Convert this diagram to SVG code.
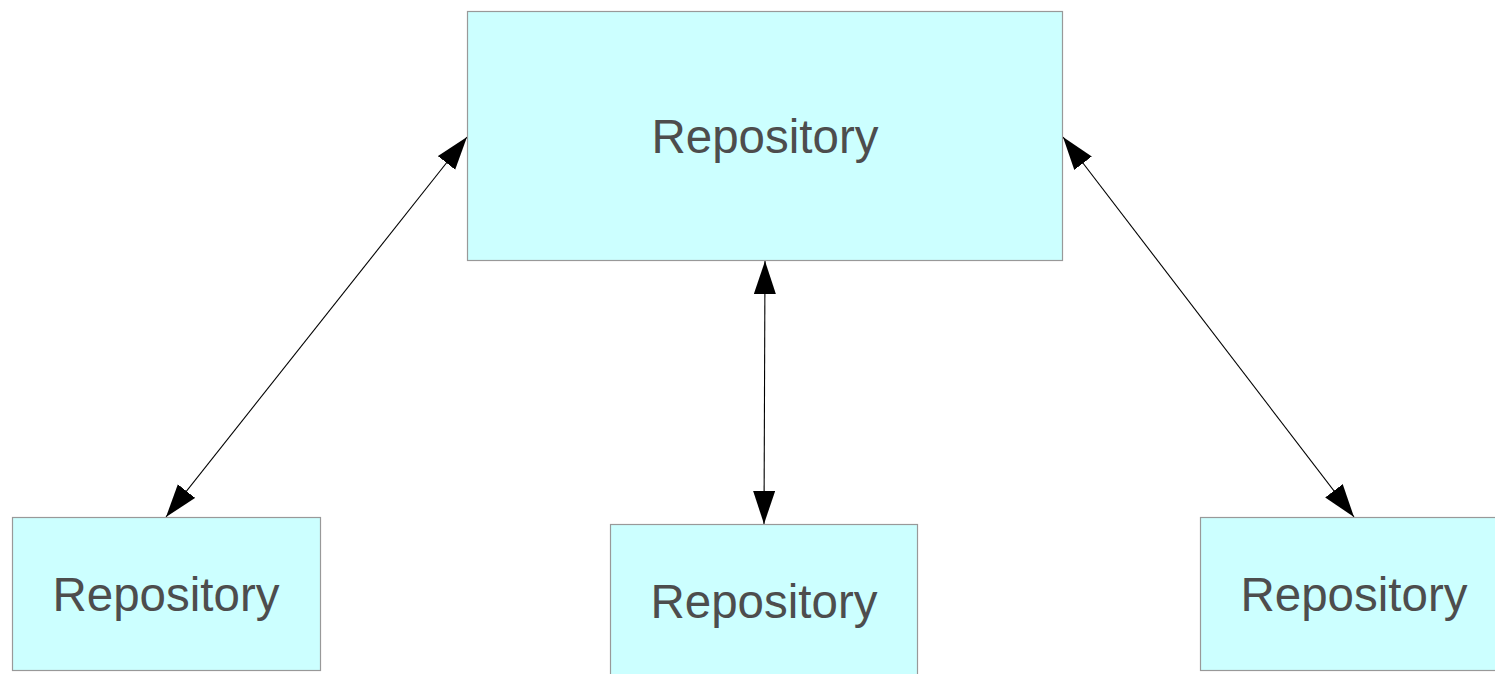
<svg xmlns="http://www.w3.org/2000/svg" width="1495" height="674" viewBox="0 0 1495 674">
<style>
.box{fill:#ccffff;stroke:#999999;stroke-width:1.2}
.lbl{font-family:"Liberation Sans",Arial,sans-serif;font-size:47.5px;fill:#4d4d4d;text-anchor:middle}
.con{stroke:#000000;stroke-width:1.1;fill:none;marker-start:url(#ah);marker-end:url(#ah)}
</style>
<defs>
<marker id="ah" markerUnits="userSpaceOnUse" markerWidth="34" markerHeight="24" refX="33" refY="11" orient="auto-start-reverse" viewBox="0 0 34 24">
<path d="M0,0 L33,11 L0,22 Z" fill="#000000"/>
</marker>
</defs>
<rect width="1495" height="674" fill="#ffffff"/>
<g id="connectors">
<line class="con" x1="467" y1="137" x2="166" y2="517"/>
<line class="con" x1="765" y1="261" x2="764" y2="524"/>
<line class="con" x1="1063" y1="137" x2="1354" y2="517"/>
</g>
<g id="repo-top">
<rect class="box" x="467.5" y="11.5" width="595" height="249"/>
<text class="lbl" x="765" y="153">Repository</text>
</g>
<g id="repo-left">
<rect class="box" x="12.5" y="517.5" width="308" height="153"/>
<text class="lbl" x="166" y="611">Repository</text>
</g>
<g id="repo-middle">
<rect class="box" x="610.5" y="524.5" width="307" height="160"/>
<text class="lbl" x="764" y="618">Repository</text>
</g>
<g id="repo-right">
<rect class="box" x="1200.5" y="517.5" width="308" height="153"/>
<text class="lbl" x="1354" y="611">Repository</text>
</g>
</svg>
